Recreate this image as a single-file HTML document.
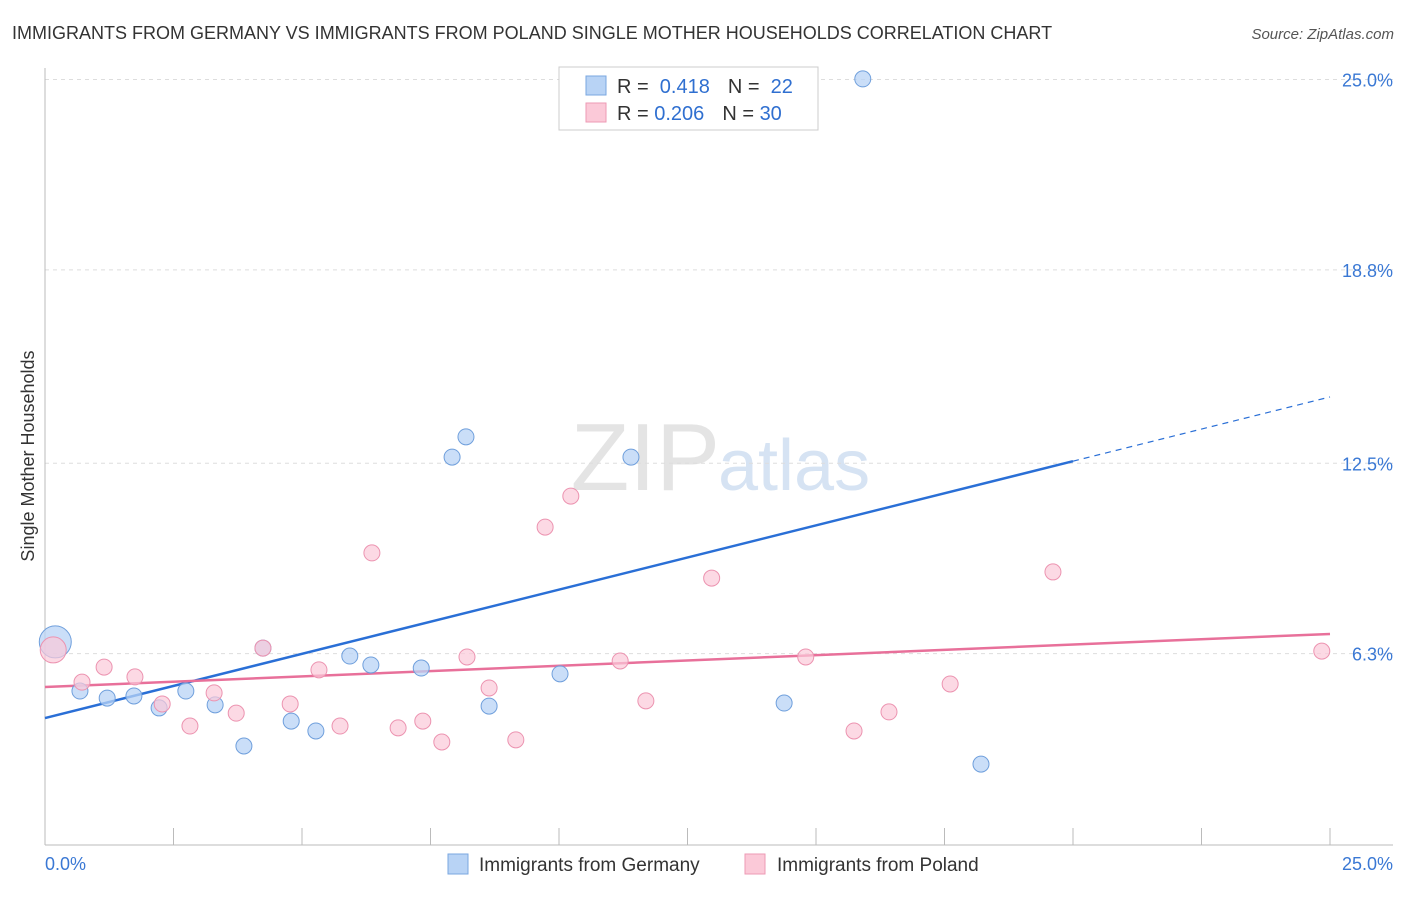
<!DOCTYPE html>
<html><head><meta charset="utf-8"><style>
body{margin:0;background:#fff;font-family:"Liberation Sans",sans-serif;}
svg text{font-family:"Liberation Sans",sans-serif;}
</style></head><body>
<svg id="chart" width="1406" height="892" xmlns="http://www.w3.org/2000/svg">
<text x="12" y="39" font-size="18" fill="#333">IMMIGRANTS FROM GERMANY VS IMMIGRANTS FROM POLAND SINGLE MOTHER HOUSEHOLDS CORRELATION CHART</text>
<text x="1394" y="39" font-size="15" fill="#555" text-anchor="end" font-style="italic">Source: ZipAtlas.com</text>
<text x="720" y="490" font-size="96" text-anchor="end" fill="#e4e4e4" font-family="Liberation Serif">ZIP</text>
<text x="718" y="490" font-size="72" fill="#d6e3f3">atlas</text>
<text transform="translate(34,456) rotate(-90)" font-size="18" fill="#333" text-anchor="middle">Single Mother Households</text>
<g id="grid"></g><g id="axes"></g><g id="lines"></g><g id="pts"></g>
<g>
<rect x="559" y="67" width="259" height="63" fill="#fff" stroke="#ccc"/>
<rect x="586" y="76" width="20" height="19" fill="#b8d3f5" stroke="#7aa7e0"/>
<rect x="586" y="103" width="20" height="19" fill="#fbc9d8" stroke="#ee9ab4"/>
<text x="617" y="93" font-size="20" fill="#333">R = <tspan fill="#2f6fd0">&#160;0.418</tspan><tspan dx="18" fill="#333">N = </tspan><tspan fill="#2f6fd0">&#160;22</tspan></text>
<text x="617" y="120" font-size="20" fill="#333">R = <tspan fill="#2f6fd0">0.206</tspan><tspan dx="18" fill="#333">N = </tspan><tspan fill="#2f6fd0">30</tspan></text>
</g>
<g>
<rect x="448" y="854" width="20" height="20" fill="#b8d3f5" stroke="#7aa7e0"/>
<text x="479" y="871" font-size="19" fill="#333">Immigrants from Germany</text>
<rect x="745" y="854" width="20" height="20" fill="#fbc9d8" stroke="#ee9ab4"/>
<text x="777" y="871" font-size="19" fill="#333">Immigrants from Poland</text>
</g>
</svg>
<script>
const germanyX=[0.2,0.68,1.21,1.73,2.22,2.74,3.31,3.87,4.24,4.79,5.27,5.93,6.34,7.32,7.92,8.19,8.64,10.02,11.40,14.38,15.91,18.21];
const germanyY=[6.68,5.08,4.85,4.92,4.53,5.08,4.63,3.29,6.48,4.10,3.78,6.22,5.93,5.83,12.70,13.36,4.59,5.64,12.70,4.69,25.02,2.70];
const polandX=[0.16,0.72,1.15,1.75,2.28,2.82,3.29,3.72,4.24,4.77,5.33,5.74,6.36,6.87,7.35,7.72,8.21,8.64,9.16,9.73,10.23,11.19,11.69,12.97,14.80,15.74,16.42,17.61,19.61,24.84];
const polandY=[6.42,5.37,5.86,5.54,4.66,3.94,5.02,4.36,6.48,4.66,5.77,3.94,9.58,3.88,4.10,3.42,6.19,5.18,3.49,10.42,11.43,6.06,4.76,8.76,6.19,3.78,4.40,5.31,8.96,6.38];
const germanyFit=[4.2,14.66];
const polandFit=[5.21,6.94];
const yTicks=[25.0,18.8,12.5,6.3];
const yTickLabels=["25.0%","18.8%","12.5%","6.3%"];
const xLabels=["0.0%","25.0%"];
const NS="http://www.w3.org/2000/svg";
const X=v=>45+v*51.4, Y=v=>847-v*30.7;
function mk(tag,attrs,parent){const e=document.createElementNS(NS,tag);for(const k in attrs)e.setAttribute(k,attrs[k]);document.getElementById(parent).appendChild(e);return e;}
yTicks.forEach((t,i)=>{
 const g=mk('line',{x1:45,x2:1393,y1:Y(t),y2:Y(t),stroke:'#ddd','stroke-dasharray':'4,4'},'grid');
 
 
 const l=mk('text',{x:1393,y:Y(t)+7,'font-size':18,fill:'#3a78d4','text-anchor':'end'},'grid');
 l.textContent=yTickLabels[i];
 
 
});
const ax=mk('line',{x1:45,x2:45,y1:68,y2:845,stroke:'#bbb'},'axes');


const bx=mk('line',{x1:45,x2:1393,y1:845,y2:845,stroke:'#bbb'},'axes');


for(let i=1;i<=10;i++){const t=mk('line',{x1:X(i*2.5),x2:X(i*2.5),y1:828,y2:845,stroke:'#bbb'},'axes');
 
 }
[[0,'start',45],[25,'end',1393]].forEach((a,i)=>{const t=mk('text',{x:a[2],y:870,'font-size':18,fill:'#3a78d4','text-anchor':a[1]},'axes');t.textContent=xLabels[i];
 
 });
function fitAt(f,x){return f[0]+(f[1]-f[0])*x/25;}
const gl=mk('line',{x1:X(0),y1:Y(fitAt(germanyFit,0)),x2:X(20),y2:Y(fitAt(germanyFit,20)),stroke:'#2a6fd6','stroke-width':2.5},'lines');


const gd=mk('line',{x1:X(20),y1:Y(fitAt(germanyFit,20)),x2:X(25),y2:Y(fitAt(germanyFit,25)),stroke:'#2a6fd6','stroke-width':1.2,'stroke-dasharray':'6,5'},'lines');


const pl=mk('line',{x1:X(0),y1:Y(polandFit[0]),x2:X(25),y2:Y(polandFit[1]),stroke:'#e8709a','stroke-width':2.5},'lines');


germanyX.forEach((x,i)=>{const c=mk('circle',{cx:X(x),cy:Y(germanyY[i]),r:i==0?16:8,fill:'#b8d3f5','fill-opacity':0.75,stroke:'#6f9fdc','stroke-width':1},'pts');
 
 });
polandX.forEach((x,i)=>{const c=mk('circle',{cx:X(x),cy:Y(polandY[i]),r:i==0?13:8,fill:'#fbc9d8','fill-opacity':0.7,stroke:'#ec93b0','stroke-width':1},'pts');
 
 });
</script>
</body></html>
